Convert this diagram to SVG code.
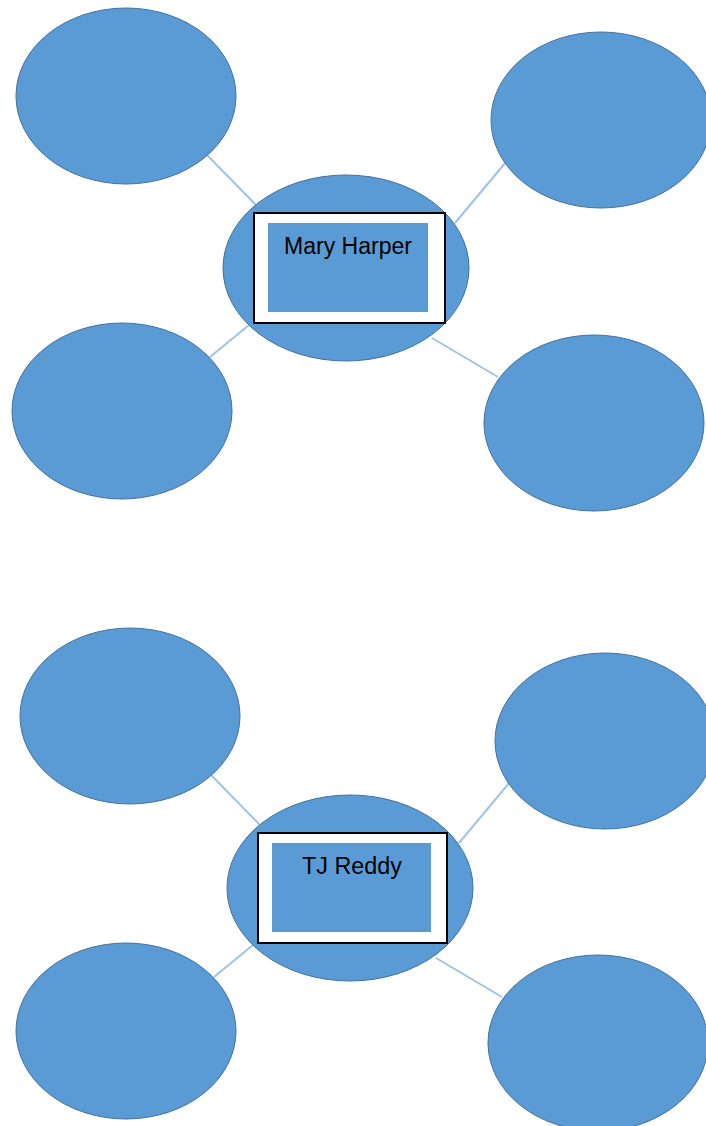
<svg xmlns="http://www.w3.org/2000/svg" width="706" height="1126" viewBox="0 0 706 1126">
<style>
.e{fill:#5B9BD5;stroke:#41719C;stroke-width:1}
.c{stroke:#9DC3E6;stroke-width:2;fill:none}
.o{fill:#FFFFFF;stroke:#000000;stroke-width:2}
.i{fill:#5B9BD5;stroke:none}
.t{font-family:"Liberation Sans Narrow","Liberation Sans",sans-serif;font-size:23px;fill:#000000;text-anchor:middle}
</style>
<rect width="706" height="1126" fill="#FFFFFF"/>
<g id="connectors">
<line class="c" x1="206" y1="154" x2="257" y2="206"/>
<line class="c" x1="506" y1="162" x2="455" y2="223"/>
<line class="c" x1="210" y1="357" x2="249" y2="325"/>
<line class="c" x1="432" y1="338" x2="498" y2="377"/>
<line class="c" x1="210" y1="774" x2="261" y2="826"/>
<line class="c" x1="510" y1="782" x2="459" y2="843"/>
<line class="c" x1="214" y1="977" x2="253" y2="945"/>
<line class="c" x1="436" y1="958" x2="502" y2="997"/>
</g>
<g id="top-tl"><ellipse class="e" cx="126" cy="96" rx="110" ry="88"/></g>
<g id="top-tr"><ellipse class="e" cx="601" cy="120" rx="110" ry="88"/></g>
<g id="top-bl"><ellipse class="e" cx="122" cy="411" rx="110" ry="88"/></g>
<g id="top-br"><ellipse class="e" cx="594" cy="423" rx="110" ry="88"/></g>
<g id="top-center">
<ellipse class="e" cx="346" cy="268" rx="123" ry="93"/>
<rect class="o" x="254" y="213" width="191" height="110"/>
<rect class="i" x="268" y="223" width="160" height="89"/>
<text class="t" x="348" y="254" textLength="128" lengthAdjust="spacingAndGlyphs">Mary Harper</text>
</g>
<g id="bot-tl"><ellipse class="e" cx="130" cy="716" rx="110" ry="88"/></g>
<g id="bot-tr"><ellipse class="e" cx="605" cy="741" rx="110" ry="88"/></g>
<g id="bot-bl"><ellipse class="e" cx="126" cy="1031" rx="110" ry="88"/></g>
<g id="bot-br"><ellipse class="e" cx="598" cy="1043" rx="110" ry="88"/></g>
<g id="bot-center">
<ellipse class="e" cx="350" cy="888" rx="123" ry="93"/>
<rect class="o" x="258" y="833" width="189" height="110"/>
<rect class="i" x="272" y="843" width="159" height="89"/>
<text class="t" x="352" y="874" textLength="100" lengthAdjust="spacingAndGlyphs">TJ Reddy</text>
</g>
</svg>
